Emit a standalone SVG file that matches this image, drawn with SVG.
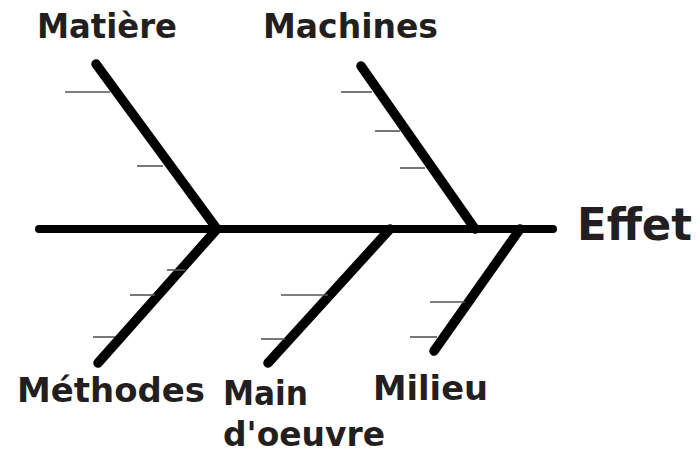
<svg xmlns="http://www.w3.org/2000/svg" width="700" height="452" viewBox="0 0 700 452">
<style>
.bone{stroke:#000;stroke-width:9.5;stroke-linecap:round;fill:none}
.spine{stroke:#000;stroke-width:8;stroke-linecap:round;fill:none}
.tick{stroke:#555;stroke-width:1.6;fill:none}
.lbl{font-family:"DejaVu Sans",Verdana,sans-serif;font-weight:bold;font-size:33px;fill:#231f20}
.eff{font-size:44px}
</style>
<rect width="700" height="452" fill="#fff"/>
<g id="connectors">
<line class="spine" x1="39" y1="229" x2="553" y2="229"/>
</g>
<g id="matiere">
<line class="bone" x1="96" y1="64" x2="217" y2="229"/>
<line class="tick" x1="65" y1="92" x2="110" y2="92"/>
<line class="tick" x1="137" y1="166" x2="163" y2="166"/>
<text class="lbl" x="37" y="38" textLength="140" lengthAdjust="spacingAndGlyphs">Matière</text>
</g>
<g id="machines">
<line class="bone" x1="361" y1="66" x2="475" y2="229"/>
<line class="tick" x1="341" y1="92" x2="372" y2="92"/>
<line class="tick" x1="375" y1="131" x2="400" y2="131"/>
<line class="tick" x1="400" y1="168" x2="425" y2="168"/>
<text class="lbl" x="263" y="38" textLength="175" lengthAdjust="spacingAndGlyphs">Machines</text>
</g>
<g id="methodes">
<line class="bone" x1="217" y1="229" x2="98" y2="363"/>
<line class="tick" x1="167" y1="270" x2="185" y2="270"/>
<line class="tick" x1="130" y1="295" x2="155" y2="295"/>
<line class="tick" x1="93" y1="337" x2="115" y2="337"/>
<text class="lbl" x="17" y="402" textLength="188" lengthAdjust="spacingAndGlyphs">Méthodes</text>
</g>
<g id="main-oeuvre">
<line class="bone" x1="390" y1="229" x2="268" y2="363"/>
<line class="tick" x1="281" y1="295" x2="328" y2="295"/>
<line class="tick" x1="261" y1="339" x2="285" y2="339"/>
<text class="lbl" x="223" y="405" textLength="85" lengthAdjust="spacingAndGlyphs">Main</text>
<text class="lbl" x="223" y="446" textLength="162" lengthAdjust="spacingAndGlyphs">d'oeuvre</text>
</g>
<g id="milieu">
<line class="bone" x1="520" y1="229" x2="434" y2="351"/>
<line class="tick" x1="430" y1="302" x2="465" y2="302"/>
<line class="tick" x1="410" y1="337" x2="437" y2="337"/>
<text class="lbl" x="373" y="400" textLength="115" lengthAdjust="spacingAndGlyphs">Milieu</text>
</g>
<g id="effet">
<text class="lbl eff" x="577" y="240" textLength="115" lengthAdjust="spacingAndGlyphs">Effet</text>
</g>
</svg>
